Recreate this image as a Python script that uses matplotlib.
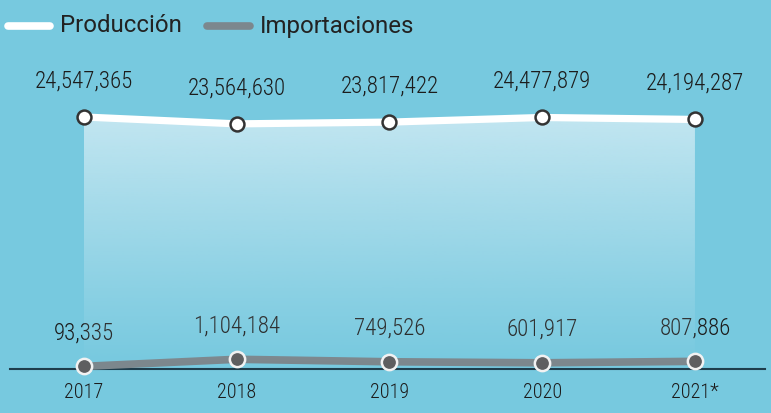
import numpy as np
import matplotlib.pyplot as plt
from matplotlib.lines import Line2D

years = ['2017', '2018', '2019', '2020', '2021*']
produccion = [24547365, 23564630, 23817422, 24477879, 24194287]
importaciones = [93335, 1104184, 749526, 601917, 807886]

bg = '#77c9df'
num_font = ['Roboto Condensed', 'Roboto', 'DejaVu Sans']
plt.rcParams['font.family'] = ['Roboto', 'DejaVu Sans']

fig = plt.figure(figsize=(7.71, 4.13), dpi=100, facecolor=bg)
ax = fig.add_axes([0, 0, 1, 1], facecolor=bg)
ax2 = ax.twinx()
x = np.arange(len(years))

# same scale (7 px per million) for both, production axis shifted (broken axis look)
ax.set_xlim(-0.55, 4.498)
ax.set_ylim(-6.57e6, 52.43e6)
ax2.set_ylim(-17.74e6, 41.26e6)
for a in (ax, ax2):
    a.axis('off')

# gradient area under production
bottom = -11.3e6
poly = ax2.fill_between(x, produccion, bottom, color='none', lw=0)
grad = np.zeros((100, 1, 4))
grad[:, 0, :3] = np.array([215, 238, 246]) / 255
grad[:, 0, 3] = np.linspace(0.8, 0.0, 100) ** 1.1
img = ax2.imshow(grad, extent=[0, 4, bottom, max(produccion)], aspect='auto',
                 origin='upper', zorder=1)
img.set_clip_path(poly.get_paths()[0], transform=ax2.transData)

# baseline
ax.axhline(-0.3e6, xmin=0.013, xmax=0.992, color='#1e3d4c', lw=1.5, zorder=2)

ax2.plot(x, produccion, color='white', lw=5.2, zorder=3, solid_capstyle='butt')
ax2.plot(x, produccion, 'o', ms=10, mfc='white', mec='#333333', mew=1.8, zorder=4)
ax.plot(x, importaciones, color='#7c878d', lw=5.5, zorder=3, solid_capstyle='butt')
ax.plot(x, importaciones, 'o', ms=11, mfc='#5e5e60', mec='#f2f2f2', mew=1.8, zorder=4)

for i in range(len(years)):
    ax2.annotate(f'{produccion[i]:,}', (x[i], produccion[i]), xytext=(0, 26),
                 textcoords='offset points', ha='center', va='center',
                 fontsize=16.5, family=num_font, weight='light', color='#1c1c1c')
    ax.annotate(f'{importaciones[i]:,}', (x[i], importaciones[i]), xytext=(0, 24),
                textcoords='offset points', ha='center', va='center',
                fontsize=16.5, family=num_font, weight='light', color='#1c1c1c')
    ax.text(x[i], -3.65e6, years[i], ha='center', va='center',
            fontsize=14.5, family=num_font, weight='light', color='#1c1c1c')

# legend
ly = 1 - 26 / 413
fig.add_artist(Line2D([8 / 771, 50 / 771], [ly, ly], color='white', lw=5.5,
                      solid_capstyle='round'))
fig.text(60 / 771, ly, 'Producción', fontsize=17.3, va='center', color='#222222')
fig.add_artist(Line2D([207 / 771, 250 / 771], [ly, ly], color='#7c878d', lw=5.5,
                      solid_capstyle='round'))
fig.text(260 / 771, ly, 'Importaciones', fontsize=17.3, va='center', color='#222222')

fig.savefig('out.png', dpi=100, facecolor=bg)
